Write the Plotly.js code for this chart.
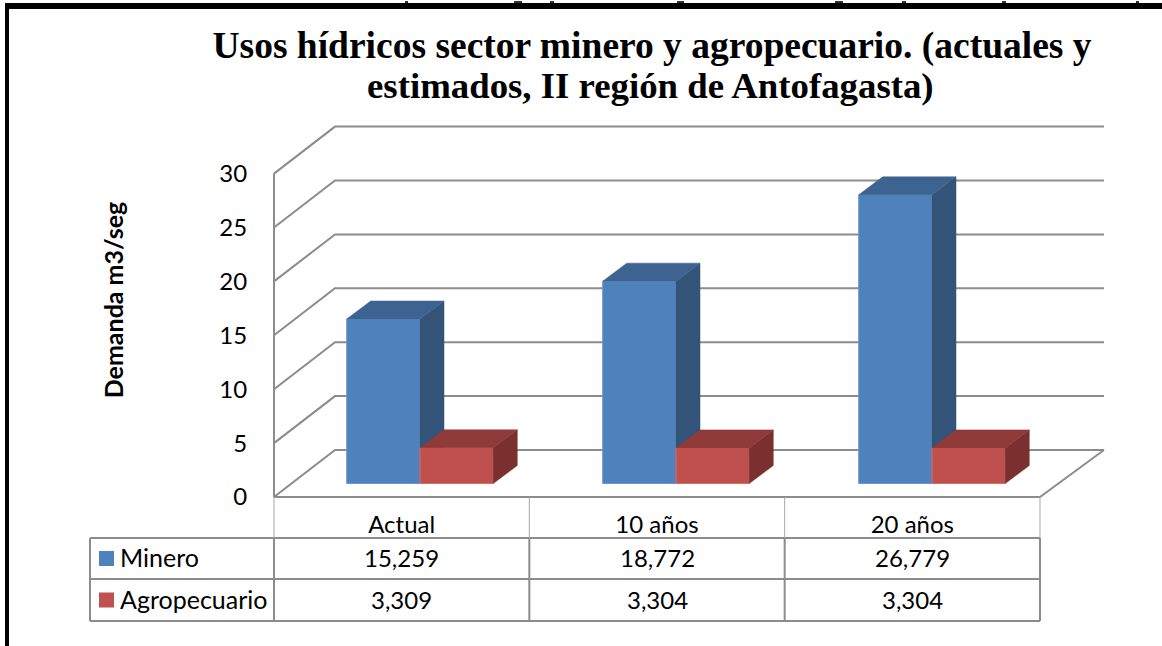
<!DOCTYPE html>
<html><head><meta charset="utf-8">
<script src="https://cdn.plot.ly/plotly-3.0.1.min.js"></script>
<style>html,body{margin:0;padding:0;background:#fff;overflow:hidden}#c{width:1162px;height:646px}</style>
</head><body><div id="c"></div>
<script>
const categories = ['Actual', '10 años', '20 años'];
const minero = [15.259, 18.772, 26.779];
const agropecuario = [3.309, 3.304, 3.304];
const seriesNames = ['Minero', 'Agropecuario'];
const yTicks = [0, 5, 10, 15, 20, 25, 30];
const titleLine1 = 'Usos hídricos sector minero y agropecuario. (actuales y';
const titleLine2 = 'estimados, II región de Antofagasta)';
const yTitle = 'Demanda m3/seg';
const clippedTopMarks = [[405,3],[514,8],[550,4],[677,7],[835,8],[902,4],[1002,4],[1136,3]];

const W = 1162, H = 646, plotH = 600, x0 = 274, catW = 255.33, y0 = 497, unit = 10.78;
const GRID = '#8c8c8c';
const xRange = [-x0 / catW, (W - x0) / catW];
const yRange = [(y0 - plotH) / unit, y0 / unit];
const wallDx = 61 / catW, wallDy = 47 / unit, wallRight = (1104 - x0) / catW;
const barW = 73.3 / catW, barDx = 24 / catW, barDy = 18 / unit;
const floorDy = 13.5 / unit;
const py = p => (plotH - p) / plotH;
const centers = categories.map((_, i) => (420 - x0 + i * 256) / catW);

function gridTrace() {
  const xs = [], ys = [];
  yTicks.forEach(v => {
    xs.push(0, wallDx, wallRight, null);
    ys.push(v, v + wallDy, v + wallDy, null);
  });
  xs.push(0, 0, null, 0, categories.length, wallRight);
  ys.push(0, yTicks[yTicks.length - 1], null, 0, 0, wallDy);
  return {type:'scatter', mode:'lines', x:xs, y:ys, line:{color:GRID, width:2}, hoverinfo:'skip', showlegend:false, xaxis:'x', yaxis:'y'};
}
function poly(xs, ys, color, ax) {
  return {type:'scatter', mode:'lines', x:xs, y:ys, fill:'toself', fillcolor:color, line:{color:color, width:0.5}, hoverinfo:'skip', showlegend:false, xaxis:'x'+ax, yaxis:'y'+ax};
}
function barSet(values, name, offset, cFront, cTop, cSide, edge, ax) {
  const xsT = [], ysT = [], xsS = [], ysS = [];
  values.forEach((v, i) => {
    const l = centers[i] + offset - barW / 2, r = l + barW, top = floorDy + v;
    xsT.push(l, r, r + barDx, l + barDx, l, null);
    ysT.push(top, top, top + barDy, top + barDy, top, null);
    xsS.push(r, r + barDx, r + barDx, r, r, null);
    ysS.push(floorDy, floorDy + barDy, top + barDy, top, floorDy, null);
  });
  return [
    {type:'bar', name:name, x:centers.map(c => c + offset), y:values, base:floorDy, width:barW,
     marker:{color:cFront, line:{color:edge, width:1}}, xaxis:'x'+ax, yaxis:'y'+ax, showlegend:false,
     hovertemplate:'%{y}<extra>'+name+'</extra>'},
    poly(xsS, ysS, cSide, ax),
    poly(xsT, ysT, cTop, ax)
  ];
}
const data = [gridTrace()]
  .concat(barSet(minero, seriesNames[0], -barW/2, '#4F81BD', '#3D6391', '#335379', '#6d97cb', '2'))
  .concat(barSet(agropecuario, seriesNames[1], barW/2, '#C0504D', '#8F3B39', '#7A302E', '#cf6e6b', '3'));

const fmt = v => v.toFixed(3).replace('.', ',');
const FONT = 'Lato, Carlito, sans-serif';
const SERIF = '"Liberation Serif", serif';
const shapes = [
  {type:'rect', xref:'paper', yref:'paper', x0:5/W, x1:1, y0:py(3), y1:py(9), fillcolor:'#000', line:{width:0}},
  {type:'rect', xref:'paper', yref:'paper', x0:5/W, x1:9/W, y0:py(3), y1:py(H), fillcolor:'#000', line:{width:0}},
];
clippedTopMarks.forEach(m => shapes.push({type:'rect', xref:'paper', yref:'paper', x0:m[0]/W, x1:(m[0]+m[1])/W, y0:py(1), y1:py(3), fillcolor:'#333', line:{width:0}}));
const colX = [0,1,2,3];
const hline = (a, b, p, w) => ({type:'line', xref:'x', yref:'paper', x0:a, x1:b, y0:py(p), y1:py(p), line:{color:GRID, width:w}});
const vline = (a, p0, p1, w, c) => ({type:'line', xref:'x', yref:'paper', x0:a, x1:a, y0:py(p0), y1:py(p1), line:{color:c||GRID, width:w}});
const tableLeft = (90 - x0) / catW;
shapes.push(hline(tableLeft,3,538,2), hline(tableLeft,3,579,2), hline(tableLeft,3,621,2));
colX.forEach(c => { shapes.push(vline(c,497,538,1,'#a6a6a6'), vline(c,538,621,2)); });
shapes.push(vline(tableLeft,538,621,2));
const rows = [minero, agropecuario], rowY = [558.5, 600], swatch = ['#4F81BD', '#C0504D'];
const annotations = [
  {xref:'paper', yref:'paper', x:650/W, y:py(85), xanchor:'center', yanchor:'middle', text:titleLine2, showarrow:false, font:{family:SERIF, size:36.8, color:'#000', weight:700}}
];
rows.forEach((vals, r) => {
  shapes.push({type:'rect', xref:'paper', yref:'paper', x0:99/W, x1:114/W, y0:py(rowY[r]-7.5), y1:py(rowY[r]+7.5), fillcolor:swatch[r], line:{width:0}});
  annotations.push({xref:'paper', yref:'paper', x:118/W, y:py(rowY[r]-1.5), xanchor:'left', yanchor:'middle', text:seriesNames[r], showarrow:false, font:{family:FONT, size:25, color:'#000'}});
  vals.forEach((v, i) => annotations.push({xref:'x', yref:'paper', x:i+0.5, y:py(rowY[r]-1), xanchor:'center', yanchor:'middle', text:fmt(v), showarrow:false, font:{family:FONT, size:24, color:'#000'}}));
});
const hidden = {visible:false, fixedrange:true};
const layout = {
  width:W, height:H, margin:{l:0, r:0, t:0, b:H-plotH, pad:0}, paper_bgcolor:'#fff', plot_bgcolor:'rgba(0,0,0,0)',
  showlegend:false, hovermode:'closest',
  title:{text:titleLine1, x:652/W, xanchor:'center', y:1-45/H, yanchor:'middle', font:{family:SERIF, size:37.5, color:'#000', weight:700}},
  xaxis:{range:xRange, tickmode:'array', tickvals:categories.map((_,i)=>i+0.5), ticktext:categories, anchor:'free', position:py(y0), side:'bottom',
    showgrid:false, zeroline:false, showline:false, ticks:'outside', ticklen:6, tickcolor:'rgba(0,0,0,0)', tickfont:{family:FONT, size:24, color:'#000'}, fixedrange:true},
  yaxis:{range:yRange, tickmode:'array', tickvals:yTicks, anchor:'free', position:x0/W, side:'left',
    showgrid:false, zeroline:false, showline:false, ticks:'outside', ticklen:22, tickcolor:'rgba(0,0,0,0)', tickfont:{family:FONT, size:24, color:'#000'}, fixedrange:true,
    title:{text:yTitle, standoff:87, font:{family:FONT, size:25, color:'#000', weight:700}}},
  xaxis2:Object.assign({range:xRange, overlaying:'x'}, hidden),
  yaxis2:Object.assign({range:yRange, overlaying:'y'}, hidden),
  xaxis3:Object.assign({range:xRange, overlaying:'x'}, hidden),
  yaxis3:Object.assign({range:yRange, overlaying:'y'}, hidden),
  shapes:shapes, annotations:annotations
};
Plotly.newPlot('c', data, layout, {displayModeBar:false, responsive:false});
</script></body></html>
